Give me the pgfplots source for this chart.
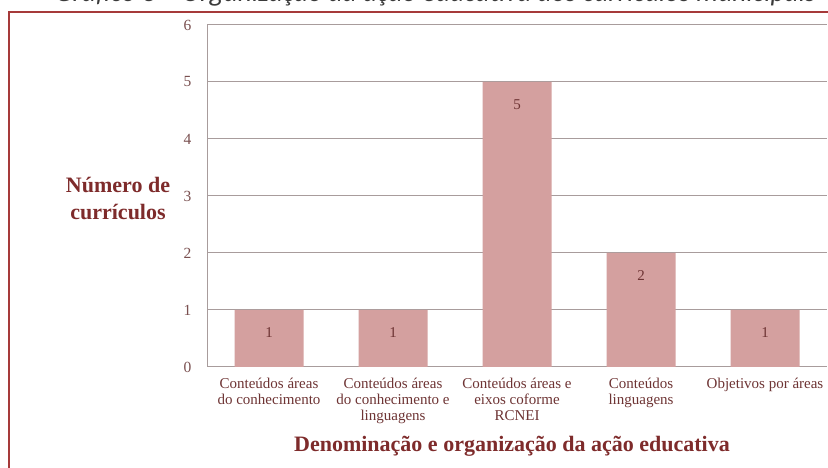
\documentclass[border=0pt]{standalone}
\usepackage{pgfplots}
\pgfplotsset{compat=1.18}
\usepackage{fontspec}
\setmainfont{Liberation Serif}
\newfontfamily\calibri{Carlito}
\definecolor{barfill}{HTML}{D4A09F}
\definecolor{framec}{HTML}{A63A3A}
\definecolor{titlered}{HTML}{7E2B2B}
\definecolor{labc}{HTML}{6E3434}
\definecolor{tickc}{HTML}{7A5050}
\definecolor{gridc}{HTML}{A89C9C}
\definecolor{topgray}{HTML}{3A3A3A}
\begin{document}
\begin{tikzpicture}[x=1pt,y=1pt]
\path[use as bounding box] (0,0) rectangle (828,468);
\clip (0,0) rectangle (828,468);
\fill[white] (0,0) rectangle (828,468);
\draw[framec, line width=2pt] (9,-20) rectangle (860,456);
\node[anchor=base west, font=\calibri\itshape\fontsize{27.5}{30}\selectfont, text=topgray, inner sep=0pt] at (55,466) {Gráfico 3 – Organização da ação educativa dos currículos municipais};
\begin{axis}[
  at={(207pt,101pt)}, anchor=south west,
  width=620pt, height=342pt, scale only axis,
  xmin=-0.5, xmax=4.5, ymin=0, ymax=6,
  ytick={0,1,2,3,4,5,6},
  xtick={0,1,2,3,4},
  xticklabels={{Conteúdos áreas\\do conhecimento},{Conteúdos áreas\\do conhecimento e\\linguagens},{Conteúdos áreas e\\eixos coforme\\RCNEI},{Conteúdos\\linguagens},{Objetivos por áreas}},
  xticklabel style={align=center, font=\fontsize{15}{16}\selectfont, text=labc, anchor=north, yshift=-8pt},
  /pgf/number format/assume math mode=true,
  yticklabel style={font=\fontsize{15.5}{17}\selectfont, text=tickc, xshift=-12pt},
  major tick length=0pt,
  axis x line*=bottom, axis y line*=left,
  axis line style={gridc, line width=1pt, -},
  ymajorgrids, grid style={gridc, line width=1pt},
  ybar, bar width=69pt,
  nodes near coords,
  every node near coord/.append style={font=\fontsize{15}{17}\selectfont, text=labc, anchor=north, yshift=-14pt},
  clip=false,
]
\addplot[fill=barfill, draw=none] coordinates {(0,1) (1,1) (2,5) (3,2) (4,1)};
\end{axis}
\node[font=\bfseries\fontsize{22}{27}\selectfont, text=titlered, align=center] at (118,270) {Número de\\currículos};
\node[font=\bfseries\fontsize{22}{27}\selectfont, text=titlered] at (512,22) {Denominação e organização da ação educativa};
\end{tikzpicture}
\end{document}
